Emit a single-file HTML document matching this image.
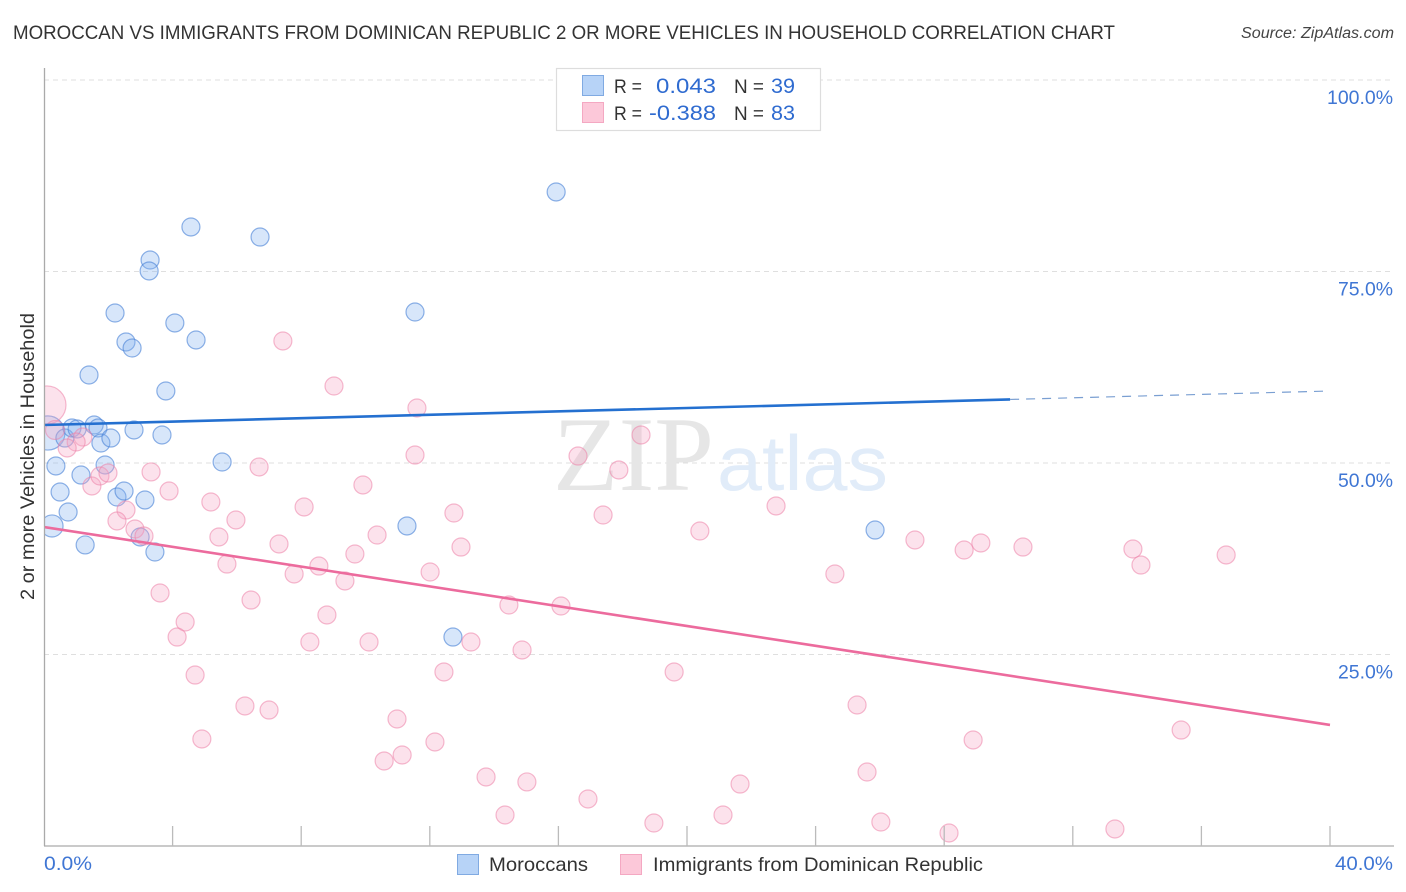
<!DOCTYPE html>
<html lang="en">
<head>
<meta charset="utf-8">
<title>Moroccan vs Immigrants from Dominican Republic correlation chart</title>
<style>
html,body{margin:0;padding:0;background:#fff;}
body{width:1406px;height:892px;overflow:hidden;}
svg{display:block;font-family:"Liberation Sans",sans-serif;}
</style>
</head>
<body>
<svg id="chart" width="1406" height="892" viewBox="0 0 1406 892" xmlns="http://www.w3.org/2000/svg">
  <defs>
    <clipPath id="plot-clip"><rect x="44" y="60" width="1350" height="786"/></clipPath>
  </defs>
  <text x="13" y="39" font-size="19.5" fill="#333" textLength="1102" lengthAdjust="spacingAndGlyphs">MOROCCAN VS IMMIGRANTS FROM DOMINICAN REPUBLIC 2 OR MORE VEHICLES IN HOUSEHOLD CORRELATION CHART</text>
  <text x="1394" y="38" font-size="15.5" font-style="italic" fill="#444" text-anchor="end" textLength="153" lengthAdjust="spacingAndGlyphs">Source: ZipAtlas.com</text>

  <g id="grid"></g>

  <text x="553" y="490" font-family="'Liberation Serif',serif" font-size="106" fill="#e6e6e6" textLength="161" lengthAdjust="spacingAndGlyphs">ZIP</text>
  <text x="717" y="490" font-size="78" fill="#e1ecf9" textLength="171" lengthAdjust="spacingAndGlyphs">atlas</text>

  <g id="points" clip-path="url(#plot-clip)"></g>
  <g id="lines" clip-path="url(#plot-clip)"></g>

  <line x1="44.5" y1="68" x2="44.5" y2="846" stroke="#aaa" stroke-width="1.3"/>
  <line x1="44" y1="846" x2="1394" y2="846" stroke="#aaa" stroke-width="1.3"/>
  <g id="axis"></g>

  <text transform="translate(34,456.5) rotate(-90)" font-size="19.5" fill="#333" text-anchor="middle" textLength="287" lengthAdjust="spacingAndGlyphs">2 or more Vehicles in Household</text>

  <g>
    <rect x="556.5" y="68.5" width="264" height="62" fill="#fff" stroke="#ddd" stroke-width="1.2"/>
    <rect x="582.5" y="75.5" width="21" height="20" fill="#b7d3f7" stroke="#80aae2"/>
    <rect x="582.5" y="102.5" width="21" height="20" fill="#fcc8d9" stroke="#f4a8c2"/>
    <text x="614" y="93" font-size="19" fill="#333" textLength="28" lengthAdjust="spacingAndGlyphs">R =</text>
    <text x="656" y="93" font-size="21" fill="#2f6bd0" textLength="60" lengthAdjust="spacingAndGlyphs">0.043</text>
    <text x="734" y="93" font-size="19" fill="#333" textLength="30" lengthAdjust="spacingAndGlyphs">N =</text>
    <text x="771" y="93" font-size="21" fill="#2f6bd0" textLength="24" lengthAdjust="spacingAndGlyphs">39</text>
    <text x="614" y="120" font-size="19" fill="#333" textLength="28" lengthAdjust="spacingAndGlyphs">R =</text>
    <text x="649" y="120" font-size="21" fill="#2f6bd0" textLength="67" lengthAdjust="spacingAndGlyphs">-0.388</text>
    <text x="734" y="120" font-size="19" fill="#333" textLength="30" lengthAdjust="spacingAndGlyphs">N =</text>
    <text x="771" y="120" font-size="21" fill="#2f6bd0" textLength="24" lengthAdjust="spacingAndGlyphs">83</text>
  </g>

  <g>
    <rect x="457.5" y="854.5" width="21" height="20" fill="#b7d3f7" stroke="#80aae2"/>
    <text x="489" y="871" font-size="19.5" fill="#333" textLength="99" lengthAdjust="spacingAndGlyphs">Moroccans</text>
    <rect x="620.5" y="854.5" width="21" height="20" fill="#fcc8d9" stroke="#f4a8c2"/>
    <text x="653" y="871" font-size="19.5" fill="#333" textLength="330" lengthAdjust="spacingAndGlyphs">Immigrants from Dominican Republic</text>
  </g>
</svg>

<script>
const yTickValues = [25, 50, 75, 100];
const yTickLabels = ['25.0%', '50.0%', '75.0%', '100.0%'];
const xTickValues = [4, 8, 12, 16, 20, 24, 28, 32, 36, 40];
const xEndValues = [0, 40];
const xEndLabels = ['0.0%', '40.0%'];

const moroccanX = [15.93,4.57,6.72,3.30,3.27,2.21,4.07,11.54,4.73,2.55,2.74,1.40,3.79,0.12,0.65,0.87,1.03,1.56,1.68,1.77,2.08,2.80,3.67,0.37,1.15,1.90,5.54,0.50,2.27,2.49,3.14,0.75,0.25,2.99,1.28,3.45,11.29,25.85,12.72];
const moroccanY = [85.38,80.81,79.50,76.50,75.07,69.58,68.28,69.71,66.06,65.80,65.01,61.49,59.40,53.92,53.26,54.57,54.44,54.96,54.57,52.61,53.26,54.31,53.66,49.61,48.43,49.74,50.13,46.21,45.56,46.34,45.17,43.60,41.78,40.34,39.30,38.38,41.78,41.25,27.28];
const moroccanWeight = [1,1,1,1,1,1,1,1,1,1,1,1,1,3.6,1,1,1,1,1,1,1,1,1,1,1,1,1,1,1,1,1,1,1.5,1,1,1,1,1,1];

const dominicanX = [0.09,0.34,1.21,1.00,0.72,1.49,1.74,1.99,3.33,3.89,2.55,2.27,2.83,3.11,5.19,5.97,5.44,5.69,7.43,9.02,11.60,11.54,18.57,16.61,17.88,6.69,9.92,8.09,12.75,17.39,22.77,20.40,10.36,7.31,12.97,9.67,8.55,7.78,9.36,12.01,3.61,4.39,6.44,8.80,14.46,16.08,4.14,8.27,10.11,13.28,14.87,4.70,12.44,19.60,6.25,7.00,10.98,25.29,4.91,12.16,11.14,10.58,13.75,15.02,16.92,14.34,18.97,21.12,21.65,25.60,26.03,28.15,28.90,33.31,35.37,27.09,28.62,29.14,30.45,33.87,34.12,36.77,24.60];
const dominicanY = [57.57,54.31,53.39,52.74,51.96,47.00,48.30,48.69,48.83,46.34,43.86,42.43,41.38,40.47,44.91,42.56,40.34,36.81,65.93,60.05,57.18,51.04,53.66,50.91,49.09,49.48,47.13,44.26,43.47,43.21,44.39,41.12,40.60,39.43,39.03,38.12,36.55,35.51,34.60,35.77,33.03,29.24,32.11,30.16,31.46,31.33,27.28,26.63,26.63,26.63,25.59,22.32,22.72,22.72,18.28,17.75,16.58,18.41,13.97,13.58,11.88,11.10,9.01,8.36,6.14,4.05,3.00,4.05,8.09,9.66,3.13,1.70,13.84,2.22,15.14,39.95,38.64,39.56,39.03,38.77,36.68,37.99,35.51];
const dominicanWeight = [4.5,1.1];

const moroccanTrend = [54.96, 59.40];
const moroccanTrendSolidEnd = 30.05;
const dominicanTrend = [41.64, 15.80];
const trendDomain = [0, 40];

const NS = 'http://www.w3.org/2000/svg';
const xScale = v => 44 + v * 32.15;
const yScale = v => 846 - v * 7.66;
const radius = w => 9 * Math.sqrt(w);
const yLabelWidth = s => s.length === 6 ? 66 : 55;
const xLabelWidth = s => s.length === 5 ? 58 : 48;

function make(tag, parent, attrs, text) {
  const el = document.createElementNS(NS, tag);
  for (const k in attrs) el.setAttribute(k, attrs[k]);
  if (text !== undefined) el.textContent = text;
  parent.appendChild(el);
  return el;
}

const gridGroup = document.getElementById('grid');
const axisGroup = document.getElementById('axis');
const pointGroup = document.getElementById('points');
const lineGroup = document.getElementById('lines');

yTickValues.forEach((v, i) => {
  const g = make('line', gridGroup, {x1: 44, x2: 1394, y1: yScale(v), y2: yScale(v), stroke: '#dfdfdf', 'stroke-width': 1, 'stroke-dasharray': '5 4'});
  
  
  const w = yLabelWidth(yTickLabels[i]);
  const t = make('text', axisGroup, {x: 1393 - w, y: yScale(v) + 24, 'font-size': 19, fill: '#3f76d4', textLength: w, lengthAdjust: 'spacingAndGlyphs'}, yTickLabels[i]);
  
  
});

xTickValues.forEach(v => {
  const t = make('line', axisGroup, {x1: xScale(v), x2: xScale(v), y1: 826, y2: 846, stroke: '#bbb', 'stroke-width': 1.3});
  
  
});

xEndValues.forEach((v, i) => {
  const anchorEnd = i === xEndValues.length - 1;
  const w = xLabelWidth(xEndLabels[i]);
  const t = make('text', axisGroup, {x: anchorEnd ? 1393 - w : xScale(v), y: 870, 'font-size': 19, fill: '#3f76d4', textLength: w, lengthAdjust: 'spacingAndGlyphs'}, xEndLabels[i]);
  
  
});

moroccanX.forEach((v, i) => {
  const c = make('circle', pointGroup, {cx: xScale(v), cy: yScale(moroccanY[i]), r: radius(moroccanWeight[i] || 1), fill: 'rgba(130,178,238,0.32)', stroke: 'rgba(74,130,214,0.62)', 'stroke-width': 1.2});
  
  
});

dominicanX.forEach((v, i) => {
  const c = make('circle', pointGroup, {cx: xScale(v), cy: yScale(dominicanY[i]), r: radius(dominicanWeight[i] || 1), fill: 'rgba(246,165,195,0.32)', stroke: 'rgba(236,130,168,0.55)', 'stroke-width': 1.2});
  
  
});

const trendAt = (trend, x) => trend[0] + (trend[1] - trend[0]) * (x - trendDomain[0]) / (trendDomain[1] - trendDomain[0]);

const moroccanSolid = make('line', lineGroup, {x1: xScale(trendDomain[0]), y1: yScale(moroccanTrend[0]), x2: xScale(moroccanTrendSolidEnd), y2: yScale(trendAt(moroccanTrend, moroccanTrendSolidEnd)), stroke: '#2470d0', 'stroke-width': 2.6});



const moroccanDash = make('line', lineGroup, {x1: xScale(moroccanTrendSolidEnd), y1: yScale(trendAt(moroccanTrend, moroccanTrendSolidEnd)), x2: xScale(trendDomain[1]), y2: yScale(moroccanTrend[1]), stroke: '#7a9fd2', 'stroke-width': 1.2, 'stroke-dasharray': '9 7'});



const dominicanLine = make('line', lineGroup, {x1: xScale(trendDomain[0]), y1: yScale(dominicanTrend[0]), x2: xScale(trendDomain[1]), y2: yScale(dominicanTrend[1]), stroke: '#ec6b9d', 'stroke-width': 2.6});


</script>
</body>
</html>
